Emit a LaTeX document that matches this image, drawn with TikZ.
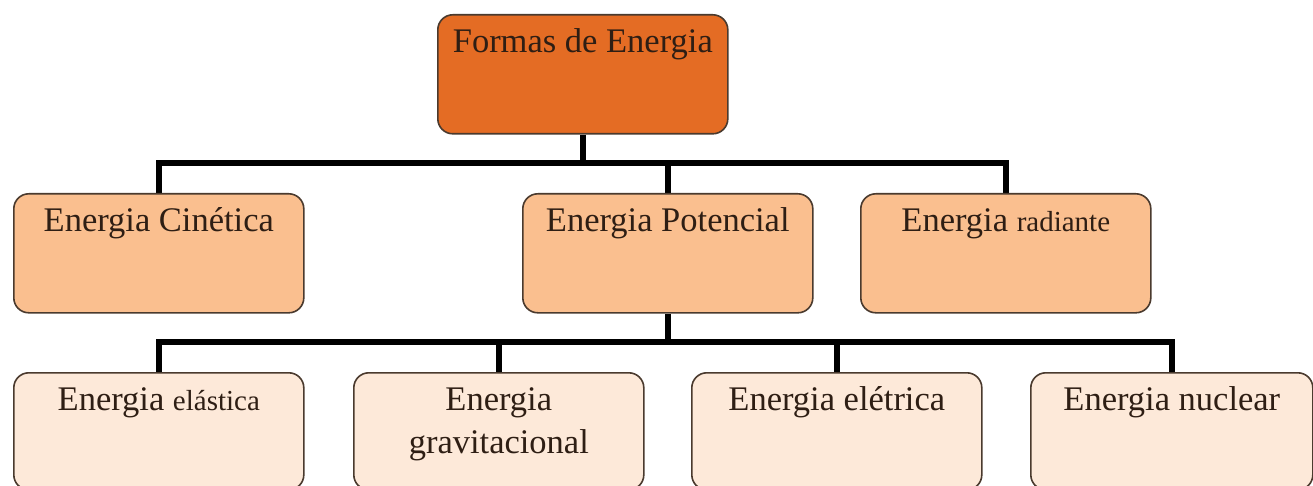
\documentclass[tikz,border=0pt]{standalone}
\usepackage{fontspec}
\setmainfont{Liberation Serif}
\usetikzlibrary{backgrounds}
\definecolor{topfill}{HTML}{E46C24}
\definecolor{midfill}{HTML}{FABF8F}
\definecolor{lowfill}{HTML}{FDE9D9}
\definecolor{edge}{HTML}{4A3A2E}
\definecolor{txt}{HTML}{2E1E14}
\newcommand{\bigtxt}{\fontsize{34.5}{40}\selectfont}
\newcommand{\smalltxt}{\fontsize{29}{34}\selectfont}
\begin{document}
\begin{tikzpicture}[x=1pt,y=-1pt,
  box/.style={draw=edge,line width=1.6pt,rounded corners=15pt,inner sep=0pt,anchor=north west,minimum width=#1},
  box/.default=290pt,
  lbl/.style={anchor=base,inner sep=0pt,text=txt,font=\bigtxt},
  conn/.style={line width=6pt,black,line join=miter}]
\useasboundingbox (0,0) rectangle (1313,486);
% boxes
\node[box,fill=topfill,minimum height=119pt] (top) at (437,14) {};
\node[box,fill=midfill,minimum height=119pt] (kin) at (13,193) {};
\node[box,fill=midfill,minimum height=119pt] (pot) at (522,193) {};
\node[box,fill=midfill,minimum height=119pt] (rad) at (860,193) {};
\node[box,fill=lowfill,minimum height=117pt] (ela) at (13,372) {};
\node[box,fill=lowfill,minimum height=117pt] (grav) at (353,372) {};
\node[box,fill=lowfill,minimum height=117pt] (ele) at (691,372) {};
\node[box=282pt,fill=lowfill,minimum height=117pt] (nuc) at (1030,372) {};
% labels
\node[lbl] (ttop) at ([yshift=-39pt]top.north) {Formas de Energia};
\node[lbl] (tkin) at ([yshift=-39pt]kin.north) {Energia Cinética};
\node[lbl] (tpot) at ([yshift=-39pt]pot.north) {Energia Potencial};
\node[lbl] (trad) at ([yshift=-39pt]rad.north) {Energia {\smalltxt radiante}};
\node[lbl] (tela) at ([yshift=-38pt]ela.north) {Energia {\smalltxt elástica}};
\node[lbl] (tgra1) at ([yshift=-38pt]grav.north) {Energia};
\node[lbl] (tgra2) at ([yshift=-81pt]grav.north) {gravitacional};
\node[lbl] (tele) at ([yshift=-38pt]ele.north) {Energia elétrica};
\node[lbl] (tnuc) at ([yshift=-38pt]nuc.north) {Energia nuclear};
% connectors
\coordinate (bus1) at (0,163);
\coordinate (bus2) at (0,342);
\begin{scope}[on background layer]
\fill[white] (0,0) rectangle (1313,486);
\draw[conn] (top.south) -- (top.south |- bus1);
\draw[conn] (kin.north) -- (kin.north |- bus1) -- (rad.north |- bus1) -- (rad.north);
\draw[conn] (pot.north) -- (pot.north |- bus1);
\draw[conn] (pot.south) -- (pot.south |- bus2);
\draw[conn] (ela.north) -- (ela.north |- bus2) -- (nuc.north |- bus2) -- (nuc.north);
\draw[conn] (grav.north) -- (grav.north |- bus2);
\draw[conn] (ele.north) -- (ele.north |- bus2);
\end{scope}
\end{tikzpicture}
\end{document}
